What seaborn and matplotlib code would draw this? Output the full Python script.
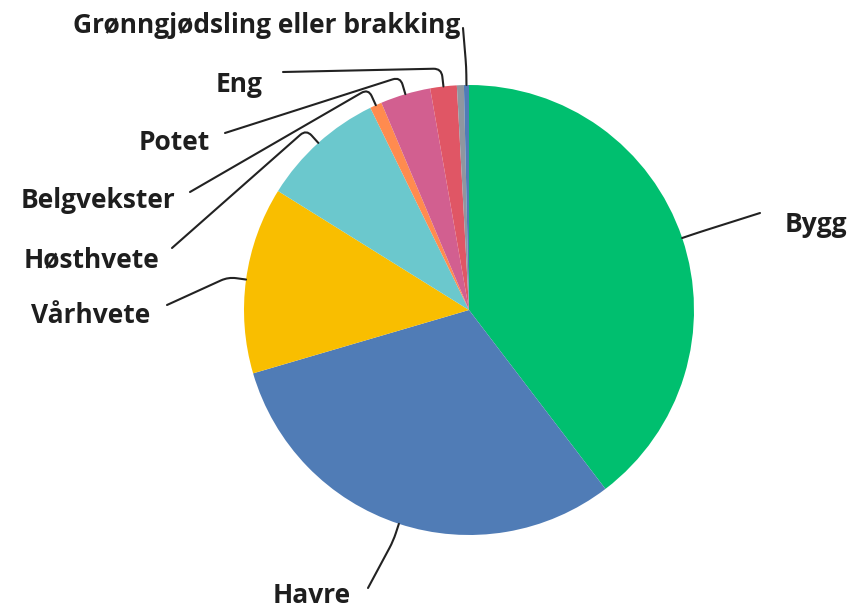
import numpy as np
import matplotlib
matplotlib.use("Agg")
import matplotlib.pyplot as plt
import seaborn as sns

# ---- data (clockwise from 12 o'clock) ----
categories = ["Bygg", "Havre", "Vårhvete", "Høsthvete", "Belgvekster",
              "Potet", "Eng", "", "Grønngjødsling eller brakking"]
values = [39.6, 30.8, 13.4, 8.9, 0.86, 3.6, 1.9, 0.5, 0.36]
colors = ["#00BF6F", "#507CB6", "#F9BE00", "#6BC8CD", "#FF8B4F",
          "#D25F90", "#E05665", "#8F979F", "#507CB6"]

# label layout in pixel coords: (text x, baseline y, ha, line start x, line start y)
W, H = 856, 611
CX, CY, R = 469, 310, 225
label_layout = {
    "Bygg": (785, 232, "left", 760, 213),
    "Havre": (351, 603, "right", 368, 588),
    "Vårhvete": (150, 323, "right", 167, 305),
    "Høsthvete": (159, 267, "right", 172, 248),
    "Belgvekster": (175, 208, "right", 190, 192),
    "Potet": (210, 150, "right", 225, 133),
    "Eng": (262, 92, "right", 283, 72),
    "Grønngjødsling eller brakking": (460, 33, "right", 463, 28),
}

sns.set_theme(style="white")
plt.rcParams["font.family"] = ["Open Sans", "DejaVu Sans"]

fig = plt.figure(figsize=(W / 100, H / 100), dpi=100)
ax = fig.add_axes([0, 0, 1, 1])

wedges, _ = ax.pie(values, colors=colors, startangle=90, counterclock=False,
                   radius=1.0, center=(0, 0), frame=True,
                   wedgeprops=dict(linewidth=0))
ax.set_xlim(-CX / R, (W - CX) / R)
ax.set_ylim(-(H - CY) / R, CY / R)
ax.axis("off")


def px(x, y):
    return ((x - CX) / R, (CY - y) / R)


for w, name in zip(wedges, categories):
    if not name:
        continue
    tx, ty, ha, lx, ly = label_layout[name]
    ax.text(*px(tx, ty), name, ha=ha, va="baseline", fontsize=19,
            fontweight="bold", color="#1e1e1e")
    mid = np.deg2rad((w.theta1 + w.theta2) / 2)
    anchor = (np.cos(mid), np.sin(mid))
    elbow = (1.08 * np.cos(mid), 1.08 * np.sin(mid))
    start = px(lx, ly)
    angA = np.degrees(np.arctan2(elbow[1] - start[1], elbow[0] - start[0]))
    angB = np.degrees(mid)
    ax.annotate("", xy=anchor, xytext=start,
                arrowprops=dict(arrowstyle="-", color="#222222", lw=1.5,
                                shrinkA=0, shrinkB=0,
                                connectionstyle=f"angle,angleA={angA:.2f},angleB={angB:.2f},rad=8"))

fig.savefig("out.png", dpi=100, facecolor="white")
